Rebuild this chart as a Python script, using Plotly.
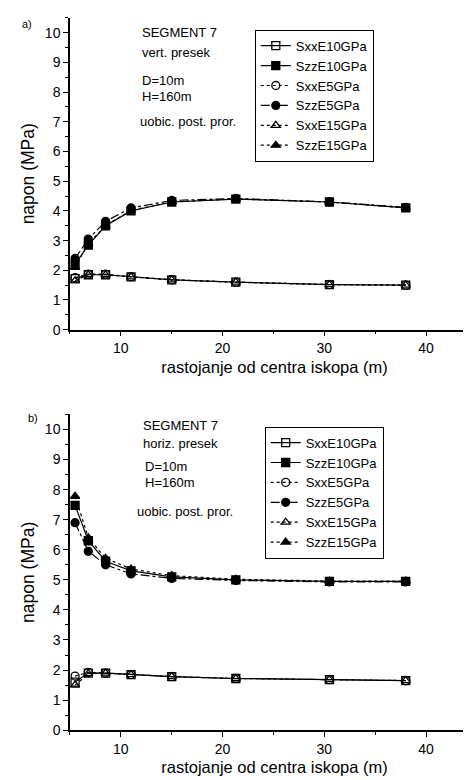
import plotly.graph_objects as go

x = [5.5, 6.8, 8.5, 11.0, 15.0, 21.3, 30.5, 38.0]

# panel a) vert. presek
a_SxxE10 = [1.72, 1.85, 1.85, 1.78, 1.68, 1.60, 1.52, 1.50]
a_SzzE10 = [2.20, 2.85, 3.50, 4.00, 4.30, 4.40, 4.30, 4.10]
a_SxxE5 = [1.75, 1.87, 1.87, 1.78, 1.68, 1.60, 1.52, 1.50]
a_SzzE5 = [2.40, 3.05, 3.65, 4.10, 4.35, 4.42, 4.30, 4.12]
a_SxxE15 = [1.65, 1.85, 1.85, 1.78, 1.68, 1.60, 1.52, 1.50]
a_SzzE15 = [2.10, 2.90, 3.50, 4.02, 4.30, 4.40, 4.30, 4.10]

# panel b) horiz. presek
b_SxxE10 = [1.60, 1.90, 1.90, 1.85, 1.78, 1.72, 1.68, 1.65]
b_SzzE10 = [7.48, 6.30, 5.62, 5.30, 5.10, 5.00, 4.95, 4.95]
b_SxxE5 = [1.80, 1.92, 1.90, 1.85, 1.78, 1.72, 1.68, 1.65]
b_SzzE5 = [6.90, 5.95, 5.50, 5.20, 5.05, 4.98, 4.93, 4.93]
b_SxxE15 = [1.50, 1.88, 1.90, 1.85, 1.78, 1.72, 1.68, 1.65]
b_SzzE15 = [7.78, 6.40, 5.72, 5.36, 5.14, 5.02, 4.96, 4.96]

names = ["SxxE10GPa", "SzzE10GPa", "SxxE5GPa", "SzzE5GPa", "SxxE15GPa", "SzzE15GPa"]
symbols = ["square-open", "square", "circle-open", "circle", "triangle-up-open", "triangle-up"]
dashes = ["solid", "solid", "dot", "dashdot", "dot", "dot"]

xticks = [10, 20, 30, 40]
yticks = list(range(0, 11))

FONT = "Liberation Sans, Arial, sans-serif"

fig = go.Figure()

series_a = [a_SxxE10, a_SzzE10, a_SxxE5, a_SzzE5, a_SxxE15, a_SzzE15]
series_b = [b_SxxE10, b_SzzE10, b_SxxE5, b_SzzE5, b_SxxE15, b_SzzE15]

for i, ys in enumerate(series_a):
    fig.add_trace(go.Scatter(
        x=x, y=ys, name=names[i], mode="lines+markers",
        line=dict(color="black", width=1.2, dash=dashes[i]),
        marker=dict(symbol=symbols[i], size=8, color="black",
                    line=dict(color="black", width=1.3)),
        xaxis="x", yaxis="y", legend="legend"))

for i, ys in enumerate(series_b):
    fig.add_trace(go.Scatter(
        x=x, y=ys, name=names[i], mode="lines+markers",
        line=dict(color="black", width=1.2, dash=dashes[i]),
        marker=dict(symbol=symbols[i], size=8, color="black",
                    line=dict(color="black", width=1.3)),
        xaxis="x2", yaxis="y2", legend="legend2"))

xa = dict(range=[5, 45.2], tickmode="array", tickvals=xticks,
          ticks="outside", ticklen=5, tickwidth=1.2, tickcolor="black",
          minor=dict(ticks="outside", ticklen=3, dtick=5, tick0=0, tickcolor="black"),
          showline=True, linecolor="black", linewidth=1.5, showgrid=False, zeroline=False,
          tickfont=dict(family=FONT, size=14, color="black"),
          title=dict(text="rastojanje od centra iskopa (m)",
                     font=dict(family=FONT, size=16.5, color="black"), standoff=6))
ya = dict(range=[0, 10.5], tickmode="array", tickvals=yticks,
          ticks="outside", ticklen=5, tickwidth=1.2, tickcolor="black",
          minor=dict(ticks="outside", ticklen=3, dtick=0.5, tick0=0, tickcolor="black"),
          showline=True, linecolor="black", linewidth=1.5, showgrid=False, zeroline=False,
          tickfont=dict(family=FONT, size=14, color="black"),
          title=dict(text="napon (MPa)",
                     font=dict(family=FONT, size=17.5, color="black"), standoff=6))

fig.update_layout(
    width=471, height=780,
    margin=dict(l=0, r=0, t=0, b=0),
    paper_bgcolor="white", plot_bgcolor="white",
    font=dict(family=FONT, color="black"),
    xaxis=dict(xa, domain=[0.1316, 1.0], anchor="y"),
    yaxis=dict(ya, domain=[0.5833, 0.9872], anchor="x"),
    xaxis2=dict(xa, domain=[0.1316, 1.0], anchor="y2"),
    yaxis2=dict(ya, domain=[0.0645, 0.4735], anchor="x2"),
    legend=dict(x=0.524, y=0.9718, xanchor="left", yanchor="top",
                bordercolor="black", borderwidth=1, bgcolor="white",
                font=dict(family=FONT, size=13, color="black"),
                tracegroupgap=0, itemwidth=30),
    legend2=dict(x=0.545, y=0.4577, xanchor="left", yanchor="top",
                 bordercolor="black", borderwidth=1, bgcolor="white",
                 font=dict(family=FONT, size=13, color="black"),
                 tracegroupgap=0, itemwidth=30),
    showlegend=True,
)

def txt(t, px, py, size=13):
    fig.add_annotation(text=t, x=px / 471, y=1 - py / 780, xref="paper", yref="paper",
                       xanchor="left", yanchor="middle", showarrow=False,
                       font=dict(family=FONT, size=size, color="black"))

txt("a)", 12, 16, 11)
txt("SEGMENT 7", 132, 25)
txt("vert. presek", 132, 45)
txt("D=10m", 132, 73)
txt("H=160m", 132, 89)
txt("uobic. post. pror.", 130, 115)

txt("b)", 18, 414, 11)
txt("SEGMENT 7", 133, 422)
txt("horiz. presek", 133, 440)
txt("D=10m", 135, 463)
txt("H=160m", 135, 479)
txt("uobic. post. pror.", 127, 509)

fig.write_html("out.html")
